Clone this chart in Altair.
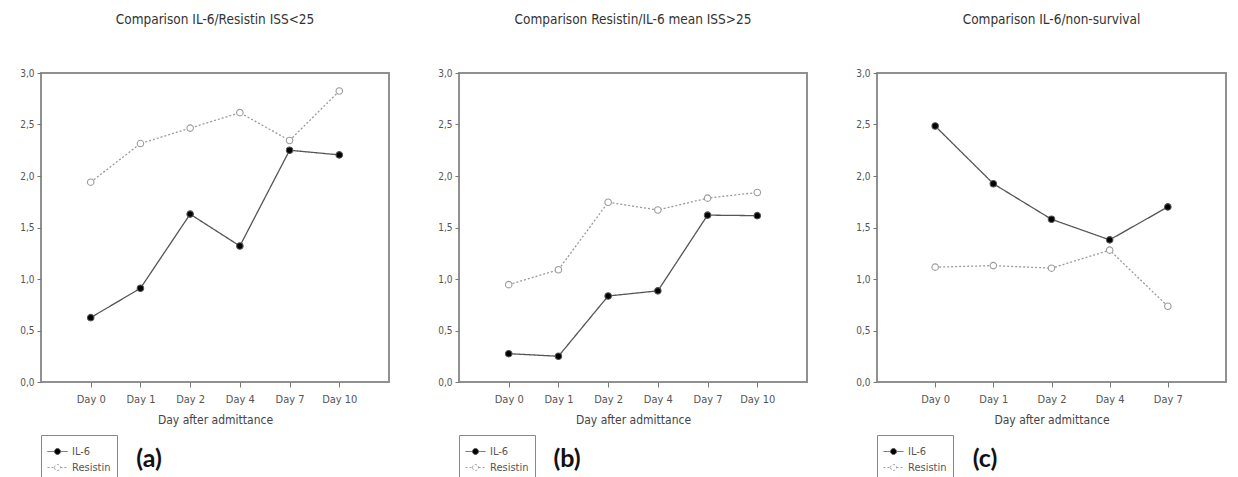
import altair as alt
import pandas as pd

# ---- data ----
days_a = ["Day 0", "Day 1", "Day 2", "Day 4", "Day 7", "Day 10"]
il6_a = [0.625, 0.91, 1.63, 1.32, 2.25, 2.205]
res_a = [1.94, 2.315, 2.465, 2.615, 2.345, 2.825]

days_b = ["Day 0", "Day 1", "Day 2", "Day 4", "Day 7", "Day 10"]
il6_b = [0.275, 0.25, 0.835, 0.885, 1.62, 1.615]
res_b = [0.945, 1.09, 1.745, 1.67, 1.785, 1.84]

days_c = ["Day 0", "Day 1", "Day 2", "Day 4", "Day 7"]
il6_c = [2.485, 1.925, 1.58, 1.38, 1.70]
res_c = [1.115, 1.13, 1.105, 1.28, 0.735]

titles = ["Comparison IL-6/Resistin ISS<25",
          "Comparison Resistin/IL-6 mean ISS>25",
          "Comparison IL-6/non-survival"]
tags = ["(a)", "(b)", "(c)"]
series = ["IL-6", "Resistin"]
x_title = "Day after admittance"

FONT = "'Liberation Sans Narrow', 'DejaVu Sans Condensed', sans-serif"
LEG_SYMBOL = "M-1,0H-0.3M0.3,0H1M-0.3,0A0.3,0.3,0,1,1,0.3,0A0.3,0.3,0,1,1,-0.3,0Z"


def panel(days, il6, res, title, tag, width):
    df = pd.DataFrame({
        "day": days + days,
        "value": il6 + res,
        "series": [series[0]] * len(days) + [series[1]] * len(days),
    })
    base = alt.Chart(df).encode(
        x=alt.X("day:N", sort=days,
                scale=alt.Scale(type="point", domain=days, padding=1),
                axis=alt.Axis(title=x_title, labelAngle=0, domain=False,
                              ticks=True, tickSize=5, tickColor="#777",
                              labelColor="#555", labelFontSize=11, labelFont=FONT,
                              labelPadding=6, titleFont=FONT, titleFontSize=12,
                              titleFontWeight="normal", titleColor="#444",
                              titlePadding=10, grid=False)),
        y=alt.Y("value:Q",
                scale=alt.Scale(domain=[0, 3], nice=False, zero=True),
                axis=alt.Axis(title=None, values=[0, 0.5, 1, 1.5, 2, 2.5, 3],
                              labelExpr="replace(format(datum.value, '.1f'), '.', ',')",
                              domain=False, tickSize=4, tickColor="#777",
                              labelColor="#555", labelFontSize=10, labelFont=FONT,
                              labelPadding=3, grid=False)),
    )
    leg = alt.Legend(title=None, orient="none", legendX=0, legendY=362,
                     strokeColor="#888", padding=6, labelFont=FONT,
                     labelFontSize=11, labelColor="#555", symbolType=LEG_SYMBOL,
                     symbolSize=400, symbolStrokeWidth=1, rowPadding=0,
                     labelOffset=4)
    stroke = alt.Stroke("series:N", scale=alt.Scale(domain=series, range=["#555555", "#9a9a9a"]),
                        legend=leg)
    dash = alt.StrokeDash("series:N", scale=alt.Scale(domain=series, range=[[1, 0], [2, 2]]),
                          legend=leg)
    fill = alt.Fill("series:N", scale=alt.Scale(domain=series, range=["#000000", "#ffffff"]),
                    legend=leg)
    lines = base.mark_line(strokeWidth=1.3).encode(stroke=stroke, strokeDash=dash)
    points = base.mark_point(shape="circle", size=42, strokeWidth=1.1, filled=False,
                             fillOpacity=1, opacity=1).encode(
        fill=fill,
        stroke=alt.Stroke("series:N", scale=alt.Scale(domain=series, range=["#000000", "#8a8a8a"]),
                          legend=leg))
    tag_text = alt.Chart(pd.DataFrame({"tag": [tag]})).mark_text(
        font="Lato", fontSize=25, fontWeight="bold", color="#111",
        align="center", baseline="middle").encode(
        text="tag:N", x=alt.value(108), y=alt.value(386))
    return alt.layer(lines, points, tag_text).properties(
        width=width, height=309,
        title=alt.TitleParams(title, font=FONT, fontSize=13.5, fontWeight="normal",
                              color="#333", offset=42, anchor="middle"))


ch = alt.hconcat(
    panel(days_a, il6_a, res_a, titles[0], tags[0], 348),
    panel(days_b, il6_b, res_b, titles[1], tags[1], 348),
    panel(days_c, il6_c, res_c, titles[2], tags[2], 349),
    spacing=70, bounds="flush",
).resolve_scale(
    x="independent", y="independent", stroke="independent",
    strokeDash="independent", fill="independent"
).configure_view(
    stroke="#909090", strokeWidth=2
).properties(
    background="white",
    padding={"left": 18, "top": 11, "right": 5, "bottom": 0}
)

chart = ch
chart.save("out.html", embed_options={"renderer": "svg", "actions": False})
